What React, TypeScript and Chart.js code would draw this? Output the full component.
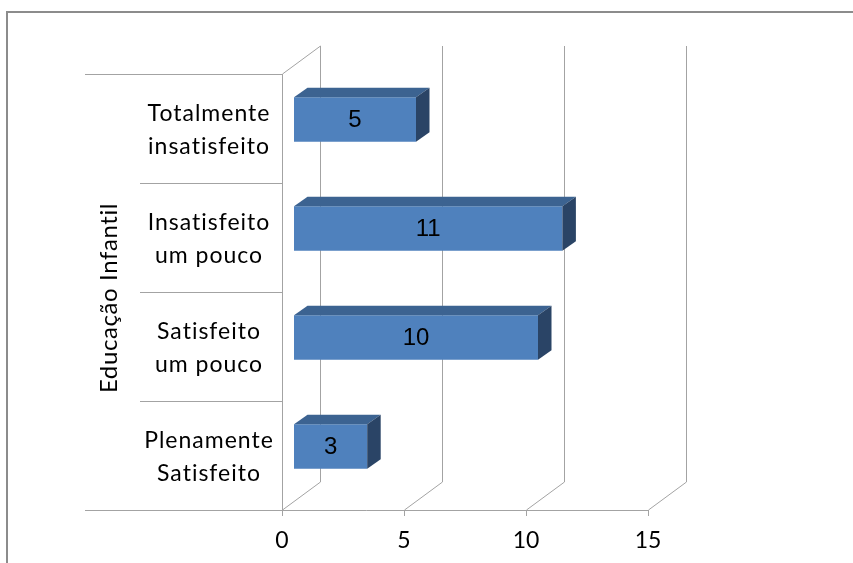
import React, { useEffect, useRef } from "react";
import { Chart, registerables } from "chart.js";

Chart.register(...registerables);

const categories: string[][] = [
  ["Totalmente", "insatisfeito"],
  ["Insatisfeito", "um pouco"],
  ["Satisfeito", "um pouco"],
  ["Plenamente", "Satisfeito"],
];
const values: number[] = [5, 11, 10, 3];
const axisTitle = "Educação Infantil";
const xMin = 0;
const xMax = 15;
const xStep = 5;

const FRONT = { dx: -12, dy: 9 };
const BACK = { dx: 26, dy: -19 };
const BAR = { dx: 13.5, dy: 9.5 };
const GRID = "#a3a3a3";
const LABEL_FONT = "23px Lato, 'Open Sans', sans-serif";

const threeD = {
  id: "threeD",
  beforeDatasetsDraw(chart: any) {
    const ctx: any = chart.ctx;
    const xs = chart.scales.x;
    const ys = chart.scales.y;
    const ca = chart.chartArea;
    ctx.save();
    // outer frame
    ctx.strokeStyle = "#8c8c8c";
    ctx.lineWidth = 2;
    ctx.strokeRect(7, 12, 1000, 700);

    ctx.strokeStyle = GRID;
    ctx.lineWidth = 1;
    const fTop = ca.top + FRONT.dy;
    const fBot = ca.bottom + FRONT.dy;
    const bTop = ca.top + BACK.dy;
    const bBot = ca.bottom + BACK.dy;
    const line = (x1: number, y1: number, x2: number, y2: number) => {
      ctx.beginPath();
      ctx.moveTo(x1, y1);
      ctx.lineTo(x2, y2);
      ctx.stroke();
    };
    xs.ticks.forEach((t: any) => {
      const px = Math.round(xs.getPixelForValue(t.value)) + 0.5;
      line(px + BACK.dx, bTop, px + BACK.dx, bBot);
      line(px + BACK.dx, bBot, px + FRONT.dx, fBot);
      line(px + FRONT.dx, fBot, px + FRONT.dx, fBot + 6);
    });
    const p0 = Math.round(xs.getPixelForValue(xMin)) + 0.5;
    line(p0 + FRONT.dx, fTop, p0 + FRONT.dx, fBot);
    line(p0 + FRONT.dx, fTop, p0 + BACK.dx, bTop);
    const n = categories.length;
    const band = (ca.bottom - ca.top) / n;
    for (let i = 0; i <= n; i++) {
      const y = Math.round(ca.top + band * i + FRONT.dy) + 0.5;
      const startX = i === 0 || i === n ? 85 : 140;
      const endX = i === n ? Math.round(xs.getPixelForValue(xMax)) + 0.5 + FRONT.dx : p0 + FRONT.dx;
      line(startX, y, endX, y);
    }
    ctx.fillStyle = "#000";
    ctx.font = LABEL_FONT;
    ctx.letterSpacing = "1px";
    ctx.textAlign = "center";
    ctx.textBaseline = "middle";
    categories.forEach((lines, i) => {
      const cy = ys.getPixelForValue(i) + FRONT.dy + 2;
      lines.forEach((s, k) => {
        ctx.fillText(s, 209, cy + (k - (lines.length - 1) / 2) * 33);
      });
    });
    ctx.letterSpacing = "0px";
    xs.ticks.forEach((t: any) => {
      const px = xs.getPixelForValue(t.value) + FRONT.dx;
      ctx.fillText(String(t.value), px, fBot + 31);
    });
    ctx.save();
    ctx.letterSpacing = "0.6px";
    ctx.font = "24px Lato, 'Open Sans', sans-serif";
    ctx.translate(109, 298);
    ctx.rotate(-Math.PI / 2);
    ctx.fillText(axisTitle, 0, 0);
    ctx.restore();
    ctx.restore();
  },
  afterDatasetsDraw(chart: any) {
    const ctx: CanvasRenderingContext2D = chart.ctx;
    const meta = chart.getDatasetMeta(0);
    ctx.save();
    meta.data.forEach((el: any, i: number) => {
      const { x, y, base, height } = el.getProps(["x", "y", "base", "height"], true);
      const top = y - height / 2;
      const bot = y + height / 2;
      ctx.fillStyle = "#3c6391";
      ctx.beginPath();
      ctx.moveTo(base, top);
      ctx.lineTo(x, top);
      ctx.lineTo(x + BAR.dx, top - BAR.dy);
      ctx.lineTo(base + BAR.dx, top - BAR.dy);
      ctx.closePath();
      ctx.fill();
      ctx.fillStyle = "#2a4466";
      ctx.beginPath();
      ctx.moveTo(x, top);
      ctx.lineTo(x + BAR.dx, top - BAR.dy);
      ctx.lineTo(x + BAR.dx, bot - BAR.dy);
      ctx.lineTo(x, bot);
      ctx.closePath();
      ctx.fill();
      ctx.fillStyle = "#000";
      ctx.font = "24px 'Liberation Sans', Arial, sans-serif";
      ctx.textAlign = "center";
      ctx.textBaseline = "middle";
      ctx.fillText(String(values[i]), (x + base) / 2, y + 1);
    });
    ctx.restore();
  },
};

export default function App() {
  const ref = useRef<HTMLCanvasElement | null>(null);
  useEffect(() => {
    if (!ref.current) return;
    const chart = new Chart(ref.current, {
      type: "bar",
      data: {
        labels: categories,
        datasets: [
          {
            data: values,
            backgroundColor: "#4f81bd",
            borderWidth: 0,
            barPercentage: 0.41,
            categoryPercentage: 1,
          },
        ],
      },
      options: {
        indexAxis: "y",
        animation: false,
        responsive: false,
        layout: { padding: { left: 294, right: 853 - 660, top: 65, bottom: 563 - 501 } },
        plugins: { legend: { display: false }, tooltip: { enabled: false } },
        scales: {
          x: { display: false, min: xMin, max: xMax, ticks: { stepSize: xStep } },
          y: { display: false },
        },
      },
      plugins: [threeD],
    });
    return () => chart.destroy();
  }, []);
  return (
    <div style={{ position: "fixed", left: 0, top: 0, width: 853, height: 563, background: "#fff" }}>
      <canvas ref={ref} width={853} height={563} style={{ display: "block" }} />
    </div>
  );
}
